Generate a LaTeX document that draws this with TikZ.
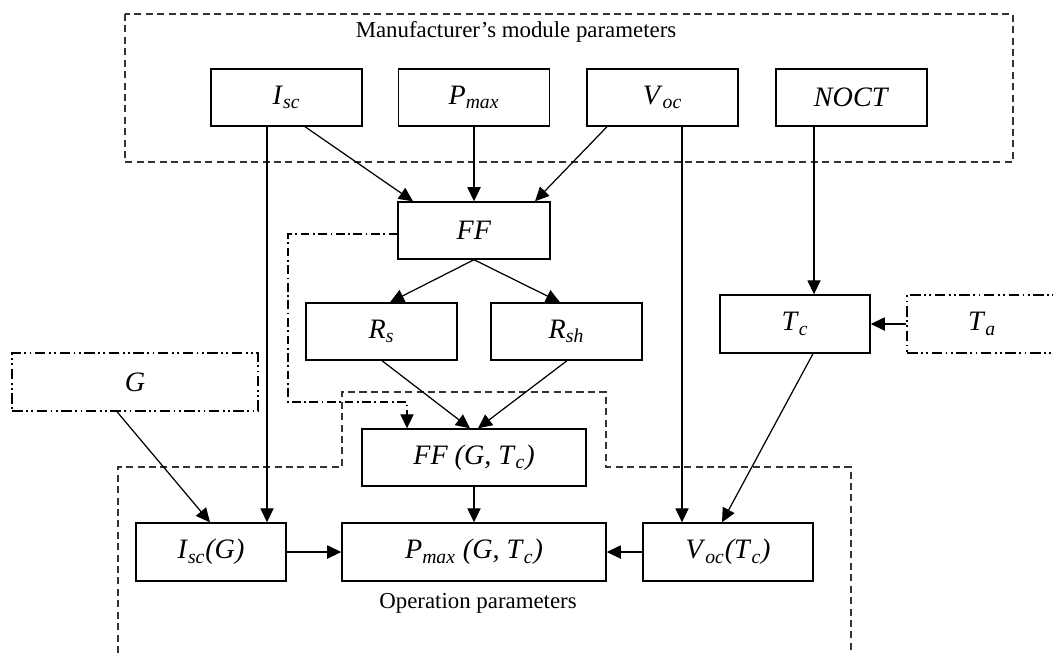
\documentclass[tikz,border=0pt]{standalone}
\usepackage{fontspec}
\setmainfont{Liberation Serif}
\usetikzlibrary{arrows.meta}
\newcommand{\pv}[2]{\textit{#1}\textsubscript{\textit{#2}}}

\begin{document}
\begin{tikzpicture}[x=0.02cm, y=-0.02cm, every node/.style={rectangle, draw, line width=0.8pt, font=\fontsize{16}{18}\selectfont}]
        \useasboundingbox (0,0) rectangle (1053,653);
        \tikzset{dashdot/.style={line width=0.8pt, dash pattern=on 5pt off 2pt on 1pt off 2pt}}
        \tikzset{dashdotdot/.style={line width=0.8pt, dash pattern=on 6pt off 2pt on 1pt off 2pt on 1pt off 2pt}}
        \tikzset{grp/.style={line width=0.8pt, dash pattern=on 4pt off 2.5pt, black!80}}
        \tikzset{lbl/.style={draw=none, font=\fontsize{13}{15}\selectfont}}
        % manufacturer's parameters
        \node (isc) at (286.5, 97.5) [minimum width=151*0.02cm, minimum height=57*0.02cm] {\pv{I}{sc}};
        \node (pmax) at (474, 97.5) [minimum width=151*0.02cm, minimum height=57*0.02cm] {\pv{P}{max}};
        \node (voc) at (662.5, 97.5) [minimum width=151*0.02cm, minimum height=57*0.02cm] {\pv{V}{oc}};
        \node (noct) at (851.5, 97.5) [minimum width=151*0.02cm, minimum height=57*0.02cm] {\textit{NOCT}};
        \node (ff) at (474, 230.5) [minimum width=152*0.02cm, minimum height=57*0.02cm] {\textit{FF}};
        \node (rs) at (381.5, 331.5) [minimum width=151*0.02cm, minimum height=57*0.02cm] {\pv{R}{s}};
        \node (rsh) at (566.5, 331.5) [minimum width=151*0.02cm, minimum height=57*0.02cm] {\pv{R}{sh}};
        \node (tc) at (795, 324) [minimum width=150*0.02cm, minimum height=58*0.02cm] {\pv{T}{c}};
        \node (ta) at (982, 324) [dashdotdot, minimum width=150*0.02cm, minimum height=58*0.02cm] {\pv{T}{a}};
        \node (g) at (135, 382) [dashdotdot, minimum width=246*0.02cm, minimum height=58*0.02cm] {\textit{G}};
        % operation parameters
        \node (ffgt) at (474, 457.5) [minimum width=224*0.02cm, minimum height=57*0.02cm] {\textit{FF (G, T}\textsubscript{\textit{c}}\textit{)}};
        \node (iscg) at (211, 552) [minimum width=150*0.02cm, minimum height=58*0.02cm] {\pv{I}{sc}\textit{(G)}};
        \node (pmaxg) at (474, 552) [minimum width=264*0.02cm, minimum height=58*0.02cm] {\pv{P}{max}\textit{ (G, T}\textsubscript{\textit{c}}\textit{)}};
        \node (voct) at (728, 552) [minimum width=170*0.02cm, minimum height=58*0.02cm] {\pv{V}{oc}\textit{(T}\textsubscript{\textit{c}}\textit{)}};
        \node (mtitle) at (516, 32) [lbl] {Manufacturer's module parameters};
        \node (otitle) at (478, 603) [lbl] {Operation parameters};
        % groups
        \draw [grp] (125,14) rectangle (1013,162);
        \draw [grp] (118,653) -- (118,467) -- (342,467) -- (342,392) -- (606,392) -- (606,467) -- (851,467) -- (851,653);
        % connectors
        \tikzset{every node/.style={solid}}
        \tikzset{myarrow/.style={-{Triangle[length=8pt, width=7.5pt]}, line width=0.7pt}}
        \coordinate (xi) at (267,0);
        \coordinate (xv) at (682,0);
        \coordinate (xn) at (814,0);
        \path (isc.south -| 305,0) edge [myarrow] (ff.north -| 413,0);
        \path (pmax) edge [myarrow] (ff);
        \path (voc.south -| 607,0) edge [myarrow] (ff.north -| 535,0);
        \path (ff.south) edge [myarrow] (rs.north -| 390,0);
        \path (ff.south) edge [myarrow] (rsh.north -| 560,0);
        \path (rs.south -| 382,0) edge [myarrow] (ffgt.north -| 470,0);
        \path (rsh.south -| 567,0) edge [myarrow] (ffgt.north -| 478,0);
        \draw [dashdot, -{Triangle[length=8pt, width=7.5pt]}] (ff.west |- 0,234) -- (288,234) -- (288,402) -- (407,402) -- (ffgt.north -| 407,0);
        \path (noct.south -| xn) edge [myarrow] (tc.north -| xn);
        \path (ta) edge [myarrow] (tc);
        \path (tc.south -| 813,0) edge [myarrow] (voct.north -| 722,0);
        \path (voc.south -| xv) edge [myarrow] (voct.north -| xv);
        \path (isc.south -| xi) edge [myarrow] (iscg.north -| xi);
        \path (g.south -| 117,0) edge [myarrow] (iscg.north -| 210,0);
        \path (ffgt) edge [myarrow] (pmaxg);
        \path (iscg) edge [myarrow] (pmaxg);
        \path (voct) edge [myarrow] (pmaxg);
      \end{tikzpicture}
\end{document}
